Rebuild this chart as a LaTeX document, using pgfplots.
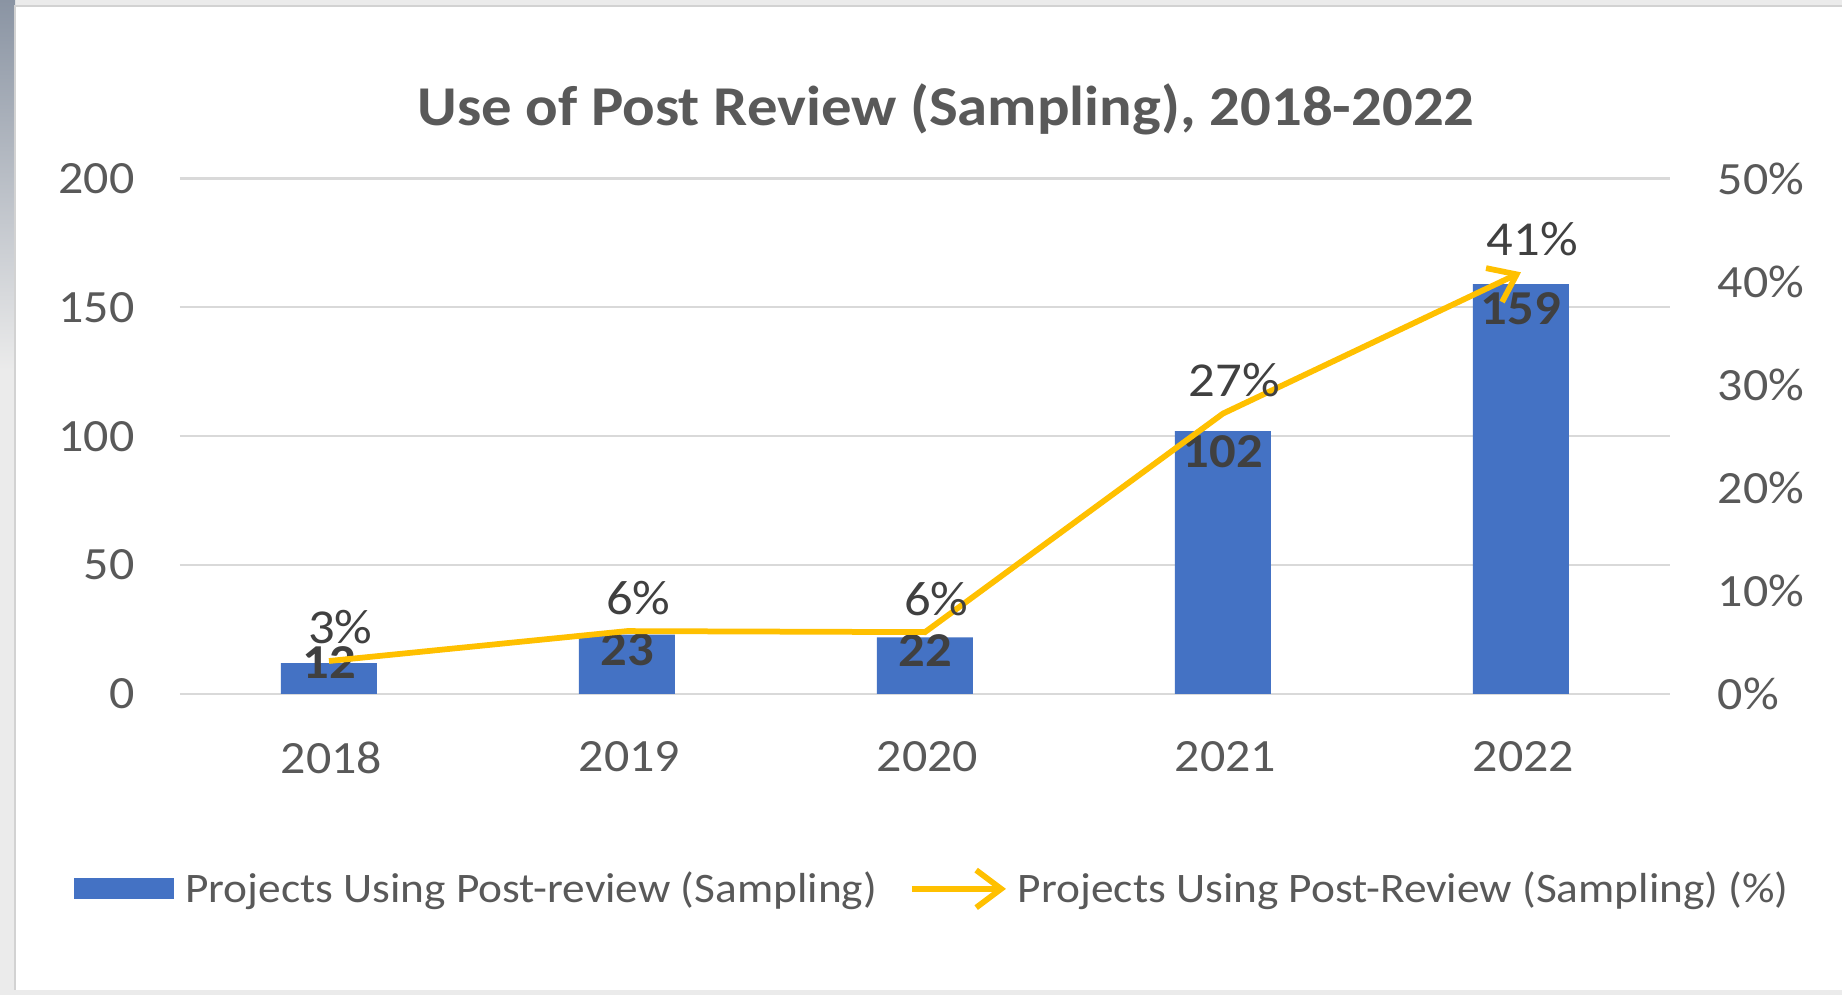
\documentclass[border=0pt]{standalone}
\usepackage{fontspec}
\setmainfont[FakeStretch=1.08]{Carlito}
\usepackage{pgfplots}
\usepackage{pgfplotstable}
\pgfplotsset{compat=1.18}
\usetikzlibrary{arrows.meta}
\definecolor{barblue}{HTML}{4472C4}
\definecolor{lineorange}{HTML}{FFC000}
\definecolor{txtgray}{HTML}{595959}
\definecolor{lblgray}{HTML}{404040}
\definecolor{gridgray}{HTML}{D9D9D9}
\definecolor{edgedark}{HTML}{8A94A3}
\definecolor{edgelight}{HTML}{EBEBEB}

% projects using post review, and label offset (pt)
\pgfplotstableread{
x n off
0 12 7
1 23 0.5
2 22 1.5
3 102 -1.5
4 159 -3.3
}\counts
% share of projects (%)
\pgfplotstableread{
x p
0 3.2
1 6.1
2 6.0
3 27.2
4 40.9
}\shares

\begin{document}
\begin{tikzpicture}
\useasboundingbox (0,0) rectangle (736.8pt,398pt);
% frame around the chart
\fill[edgelight] (0,0) rectangle (736.8pt,398pt);
\shade[top color=edgedark, bottom color=edgelight] (0,250pt) rectangle (6pt,398pt);
\fill[white] (6pt,2pt) rectangle (736.8pt,395.6pt);
\draw[gray!35, line width=0.5pt] (6pt,2pt) -- (6pt,395.6pt) -- (736.8pt,395.6pt);

\node[font=\fontsize{22.5}{24}\selectfont\bfseries, text=txtgray] at (378.4pt,354.4pt)
  {Use of Post Review (Sampling), 2018-2022};

\begin{axis}[
    at={(72pt,120.4pt)}, anchor=south west,
    scale only axis, width=596pt, height=206.2pt,
    xmin=-0.5, xmax=4.5, ymin=0, ymax=200,
    axis line style={draw=none},
    major tick length=0pt,
    xtick={0,1,2,3,4},
    xticklabels={2018,2019,2020,2021,2022},
    ytick={0,50,100,150,200},
    ymajorgrids,
    grid style={gridgray, line width=0.9pt},
    /pgf/number format/assume math mode=true,
    tick label style={font=\fontsize{18.5}{20}\selectfont, text=txtgray, inner sep=0pt},
    xticklabel style={anchor=north, yshift=-18.8pt, xshift=1pt},
    yticklabel style={anchor=east, xshift=-18pt},
    ybar, bar width=38.4pt, bar shift=0pt,
    visualization depends on={\thisrow{off} \as \off},
    nodes near coords,
    every node near coord/.append style={anchor=north, inner sep=0pt, yshift=\off*1pt,
      font=\fontsize{19.5}{21}\selectfont\bfseries, text=lblgray},
  ]
  \addplot[fill=barblue, draw=none] table[x=x, y=n] {\counts};
\end{axis}

\begin{axis}[
    at={(72pt,120.4pt)}, anchor=south west,
    scale only axis, width=596pt, height=206.2pt,
    xmin=-0.5, xmax=4.5, ymin=0, ymax=50,
    axis line style={draw=none},
    major tick length=0pt,
    xtick=\empty,
    ytick={0,10,20,30,40,50},
    yticklabel pos=right,
    yticklabel={\pgfmathprintnumber{\tick}\%},
    /pgf/number format/assume math mode=true,
    tick label style={font=\fontsize{18.5}{20}\selectfont, text=txtgray, inner sep=0pt},
    yticklabel style={anchor=west, xshift=19pt},
    nodes near coords={\pgfmathprintnumber[fixed,precision=0]{\pgfplotspointmeta}\%},
    every node near coord/.append style={anchor=south, inner sep=0pt, yshift=5.5pt, xshift=4.5pt,
      font=\fontsize{19.5}{21}\selectfont, text=lblgray},
    legend columns=2,
    legend style={at={(0.506,-0.378)}, anchor=center, draw=none, fill=none,
      font=\fontsize{16.8}{18}\selectfont, text=txtgray,
      /tikz/every even column/.append style={column sep=10.8pt}},
    legend cell align=left,
  ]
  \addlegendimage{legend image code/.code={\fill[barblue, draw=none] (0pt,-4.2pt) rectangle (40pt,4.2pt);
    \path[draw=none] (0pt,0pt) -- (42.4pt,0pt);}}
  \addlegendentry{Projects Using Post-review (Sampling)}
  \addplot[lineorange, line width=2.3pt, mark=none,
    -{Straight Barb[length=10pt, width=15pt, line width=2.3pt]},
    legend image code/.code={\draw[lineorange, line width=2.3pt,
      -{Straight Barb[length=10pt, width=15pt]}] (0pt,0pt) -- (37.6pt,0pt);
      \path[draw=none] (0pt,0pt) -- (40.4pt,0pt);}]
    table[x=x, y=p] {\shares};
  \addlegendentry{Projects Using Post-Review (Sampling) (\%)}
\end{axis}
\end{tikzpicture}
\end{document}
